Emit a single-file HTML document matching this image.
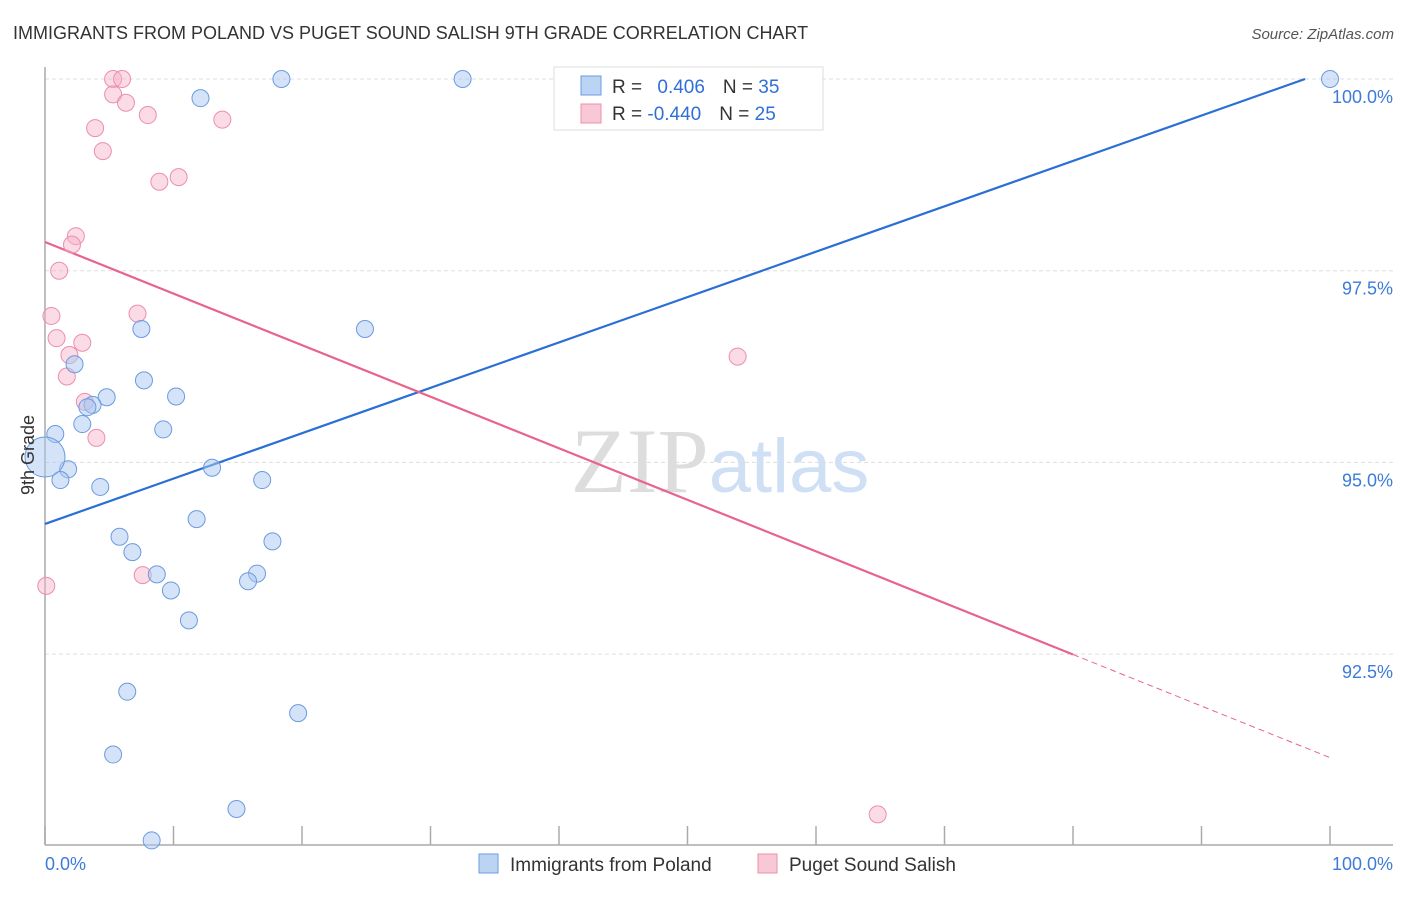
<!DOCTYPE html>
<html><head><meta charset="utf-8"><style>
body{margin:0;background:#fff;font-family:"Liberation Sans",sans-serif}
</style></head><body>
<svg id="chart" width="1406" height="892" xmlns="http://www.w3.org/2000/svg" font-family="Liberation Sans, sans-serif">
<text x="13" y="39" font-size="18" fill="#333">IMMIGRANTS FROM POLAND VS PUGET SOUND SALISH 9TH GRADE CORRELATION CHART</text>
<text x="1394" y="39" font-size="15" fill="#555" text-anchor="end" font-style="italic">Source: ZipAtlas.com</text>
<g id="grid"></g>
<text x="720" y="492" font-size="92" text-anchor="middle" fill="#ddd" font-family="Liberation Serif, serif">ZIP<tspan fill="#cfe0f5" font-family="Liberation Sans, sans-serif" font-size="76">atlas</tspan></text>
<g id="axes"></g>
<g id="lines"></g>
<g id="points"></g>
<text transform="translate(34,455) rotate(-90)" font-size="18" fill="#333" text-anchor="middle">9th Grade</text>
<g>
<rect x="554" y="67" width="269" height="63" fill="#fff" stroke="#ddd"/>
<rect x="581" y="76" width="20" height="19" fill="#bcd4f3" stroke="#6a9be0"/>
<rect x="581" y="104" width="20" height="19" fill="#f9c8d6" stroke="#ec8fab"/>
<text x="612" y="93" font-size="19" fill="#333">R = <tspan fill="#2f6fd6" dx="10">0.406</tspan><tspan dx="18" fill="#333">N = </tspan><tspan fill="#2f6fd6">35</tspan></text>
<text x="612" y="120" font-size="19" fill="#333">R = <tspan fill="#2f6fd6">-0.440</tspan><tspan dx="18" fill="#333">N = </tspan><tspan fill="#2f6fd6">25</tspan></text>
</g>
<g>
<rect x="479" y="854" width="19" height="19" fill="#bcd4f3" stroke="#6a9be0"/>
<text x="510" y="871" font-size="19" fill="#333">Immigrants from Poland</text>
<rect x="758" y="854" width="19" height="19" fill="#f9c8d6" stroke="#ec8fab"/>
<text x="789" y="871" font-size="19" fill="#333">Puget Sound Salish</text>
</g>
</svg>
<script>
const xTicks=[0,10,20,30,40,50,60,70,80,90,100];
const yTicks=[92.5,95,97.5,100];
const yTickLabels=["92.5%","95.0%","97.5%","100.0%"];
const polandX=[18.4,32.5,100,12.1,7.5,24.9,2.3,7.7,4.8,10.2,3.7,3.3,0.8,2.9,9.2,1.8,1.2,13,4.3,16.9,0,11.8,5.8,6.8,17.7,8.7,16.5,15.8,9.8,11.2,6.4,19.7,5.3,14.9,8.3];
const polandY=[100,100,100,99.75,96.74,96.74,96.28,96.07,95.85,95.86,95.75,95.72,95.37,95.5,95.43,94.91,94.77,94.93,94.68,94.77,95.07,94.26,94.03,93.83,93.97,93.54,93.55,93.45,93.33,92.94,92.01,91.73,91.19,90.48,90.07];
const salishX=[5.3,6,5.3,6.3,8,13.8,3.9,4.5,8.9,10.4,2.4,2.1,1.1,0.5,7.2,0.9,2.9,1.9,1.7,3.1,4,7.6,0.1,53.9,64.8];
const salishY=[100,100,99.8,99.69,99.53,99.47,99.36,99.06,98.66,98.72,97.95,97.84,97.5,96.91,96.94,96.62,96.56,96.4,96.12,95.79,95.32,93.53,93.39,96.38,90.41];
const polandFit=[94.197,100.115];   // y at x=0 and x=100
const salishFit=[97.874,91.15];
const X=v=>45+v*12.85, Y=v=>79+(100-v)*76.68;
const NS="http://www.w3.org/2000/svg";
function mk(t,a,p){const e=document.createElementNS(NS,t);for(const k in a)e.setAttribute(k,a[k]);p.appendChild(e);return e;}
const grid=document.getElementById('grid'),axes=document.getElementById('axes');
yTicks.forEach((v,i)=>{
 const l=mk('line',{x1:45,x2:1393,y1:Y(v),y2:Y(v),stroke:'#ddd','stroke-dasharray':'4,3'},grid);
 
 
 const t=mk('text',{x:1393,y:Y(v)+24,'font-size':18,fill:'#3d7bd9','text-anchor':'end'},axes);
 t.textContent=yTickLabels[i];
 
 
});
mk('line',{x1:45,x2:45,y1:67,y2:845,stroke:'#aaa','stroke-width':1.5},axes);
mk('line',{x1:45,x2:1393,y1:845,y2:845,stroke:'#aaa','stroke-width':1.5},axes);
xTicks.forEach(v=>{const t=mk('line',{x1:X(v),x2:X(v),y1:826,y2:845,stroke:'#aaa','stroke-width':1.5},axes);
 
 });
let t=mk('text',{x:45,y:870,'font-size':18,fill:'#3d7bd9'},axes);t.textContent='0.0%';


t=mk('text',{x:1393,y:870,'font-size':18,fill:'#3d7bd9','text-anchor':'end'},axes);t.textContent='100.0%';


const pts=document.getElementById('points');
salishX.forEach((x,i)=>{const c=mk('circle',{cx:X(x),cy:Y(salishY[i]),r:8.5,fill:'rgba(246,176,198,0.45)',stroke:'#ec8fab','stroke-width':1},pts);
 
 });
polandX.forEach((x,i)=>{const c=mk('circle',{cx:X(x),cy:Y(polandY[i]),r:(x===0?20:8.5),fill:'rgba(170,200,240,0.5)',stroke:'#6a9be0','stroke-width':1},pts);
 
 });
const ln=document.getElementById('lines');
const yb=x=>polandFit[0]+(polandFit[1]-polandFit[0])*x/100;
const xEnd=(100-polandFit[0])/(polandFit[1]-polandFit[0])*100;
let l=mk('line',{x1:X(0),y1:Y(yb(0)),x2:X(Math.min(100,xEnd)),y2:Y(yb(Math.min(100,xEnd))),stroke:'#2a6fd6','stroke-width':2.2},ln);


const yp=x=>salishFit[0]+(salishFit[1]-salishFit[0])*x/100;
l=mk('line',{x1:X(0),y1:Y(yp(0)),x2:X(80),y2:Y(yp(80)),stroke:'#e8638e','stroke-width':2.2},ln);


l=mk('line',{x1:X(80),y1:Y(yp(80)),x2:X(100),y2:Y(yp(100)),stroke:'#e8638e','stroke-width':1,'stroke-dasharray':'6,4'},ln);


</script>
</body></html>
